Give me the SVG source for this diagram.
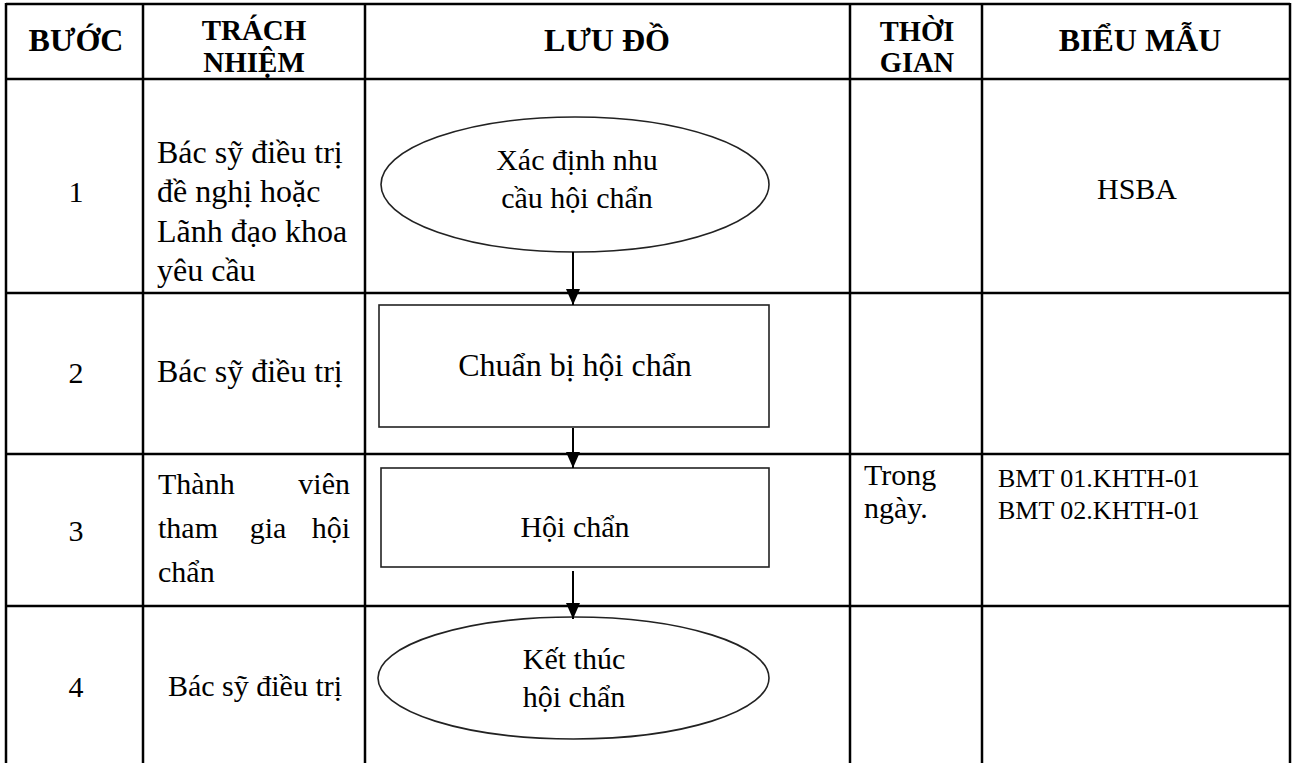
<svg xmlns="http://www.w3.org/2000/svg" width="1294" height="763" viewBox="0 0 1294 763">
<style>
.grid{stroke:#000;stroke-width:2.5;fill:none}
.shape{stroke:#222;stroke-width:1.6;fill:#fff}
.conn{stroke:#000;stroke-width:2;fill:none}
.h{font-family:"Liberation Serif","Times New Roman",serif;font-weight:bold;font-size:32px;fill:#000}
.h2{font-size:29px}
.h3{font-size:28.5px}
.t{font-family:"Liberation Serif","Times New Roman",serif;font-size:30px;fill:#000}
.big{font-size:32px}
.sm{font-size:26px}
.c{text-anchor:middle}
.e{text-anchor:end}
</style>
<defs>
<marker id="arr" viewBox="0 0 16 14" refX="16" refY="7" markerWidth="16" markerHeight="14" markerUnits="userSpaceOnUse" orient="auto">
<path d="M0,0 L16,7 L0,14 Z" fill="#000"/>
</marker>
</defs>
<rect width="1294" height="763" fill="#fff"/>
<g id="table">
<line class="grid" x1="6" y1="4" x2="1290" y2="4"/>
<line class="grid" x1="6" y1="79" x2="1290" y2="79"/>
<line class="grid" x1="6" y1="293" x2="1290" y2="293"/>
<line class="grid" x1="6" y1="454" x2="1290" y2="454"/>
<line class="grid" x1="6" y1="606" x2="1290" y2="606"/>
<line class="grid" x1="6" y1="3" x2="6" y2="763"/>
<line class="grid" x1="143" y1="3" x2="143" y2="763"/>
<line class="grid" x1="365" y1="3" x2="365" y2="763"/>
<line class="grid" x1="850" y1="3" x2="850" y2="763"/>
<line class="grid" x1="982" y1="3" x2="982" y2="763"/>
<line class="grid" x1="1290" y1="3" x2="1290" y2="763"/>
</g>
<g id="header">
<text class="h c" x="76" y="51">BƯỚC</text>
<text class="h h2 c" x="254" y="40">TRÁCH</text>
<text class="h h2 c" x="254" y="72">NHIỆM</text>
<text class="h c" x="607" y="51">LƯU ĐỒ</text>
<text class="h h3 c" x="917" y="41">THỜI</text>
<text class="h h3 c" x="917" y="72">GIAN</text>
<text class="h c" x="1140" y="51">BIỂU MẪU</text>
</g>
<g id="row1">
<text class="t c" x="76" y="202">1</text>
<text class="t big" x="157" y="163">Bác sỹ điều trị</text>
<text class="t big" x="157" y="202">đề nghị hoặc</text>
<text class="t big" x="157" y="242">Lãnh đạo khoa</text>
<text class="t big" x="157" y="281">yêu cầu</text>
<text class="t c" x="1137" y="199">HSBA</text>
</g>
<g id="row2">
<text class="t c" x="76" y="383">2</text>
<text class="t big" x="157" y="382">Bác sỹ điều trị</text>
</g>
<g id="row3">
<text class="t c" x="76" y="541">3</text>
<text class="t" x="158" y="494">Thành</text>
<text class="t e" x="350" y="494">viên</text>
<text class="t" x="158" y="538">tham</text>
<text class="t c" x="268" y="538">gia</text>
<text class="t e" x="350" y="538">hội</text>
<text class="t" x="158" y="582">chẩn</text>
<text class="t" x="864" y="485">Trong</text>
<text class="t" x="864" y="518">ngày.</text>
<text class="t sm" x="998" y="487">BMT 01.KHTH-01</text>
<text class="t sm" x="998" y="519">BMT 02.KHTH-01</text>
</g>
<g id="row4">
<text class="t c" x="76" y="697">4</text>
<text class="t c" x="255" y="696">Bác sỹ điều trị</text>
</g>
<g id="n1">
<ellipse class="shape" cx="575" cy="184.5" rx="194" ry="67.5"/>
<text class="t c" x="577" y="170">Xác định nhu</text>
<text class="t c" x="577" y="208">cầu hội chẩn</text>
</g>
<g id="n2">
<rect class="shape" x="379" y="305" width="390" height="122"/>
<text class="t big c" x="575" y="376">Chuẩn bị hội chẩn</text>
</g>
<g id="n3">
<rect class="shape" x="381" y="468" width="388" height="99"/>
<text class="t c" x="575" y="537">Hội chẩn</text>
</g>
<g id="n4">
<ellipse class="shape" cx="573.5" cy="678" rx="195.5" ry="61"/>
<text class="t c" x="574" y="669">Kết thúc</text>
<text class="t c" x="574" y="707">hội chẩn</text>
</g>
<g id="connectors">
<line class="conn" x1="573" y1="252" x2="573" y2="305" marker-end="url(#arr)"/>
<line class="conn" x1="573" y1="428" x2="573" y2="468" marker-end="url(#arr)"/>
<line class="conn" x1="573" y1="571" x2="573" y2="619" marker-end="url(#arr)"/>
</g>
</svg>
